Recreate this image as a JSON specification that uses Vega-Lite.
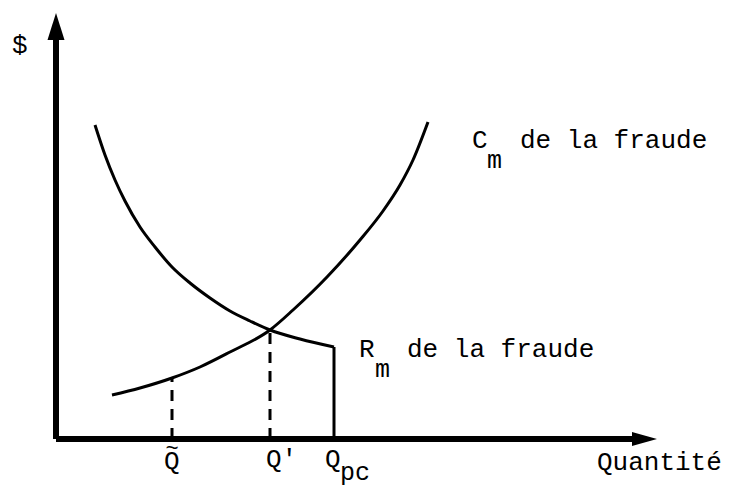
{
  "$schema": "https://vega.github.io/schema/vega-lite/v6.json",
  "width": 729,
  "height": 485,
  "padding": 0,
  "autosize": {"type": "none"},
  "background": "white",
  "config": {"view": {"stroke": null}},
  "datasets": {
    "axes": [
      {"x": 56, "y": 46, "x2": 56, "y2": 455},
      {"x": 56, "y": 46, "x2": 640, "y2": 46}
    ],
    "rm": [
      {"i": 1, "q": 95, "v": 360},
      {"i": 2, "q": 105, "v": 330},
      {"i": 3, "q": 115, "v": 305},
      {"i": 4, "q": 125, "v": 284},
      {"i": 5, "q": 140, "v": 258},
      {"i": 6, "q": 155, "v": 238},
      {"i": 7, "q": 172, "v": 218},
      {"i": 8, "q": 190, "v": 202},
      {"i": 9, "q": 210, "v": 187},
      {"i": 10, "q": 230, "v": 174},
      {"i": 11, "q": 250, "v": 164},
      {"i": 12, "q": 270, "v": 155},
      {"i": 13, "q": 300, "v": 146},
      {"i": 14, "q": 334, "v": 138}
    ],
    "cm": [
      {"i": 1, "q": 112, "v": 90},
      {"i": 2, "q": 140, "v": 97},
      {"i": 3, "q": 172, "v": 107},
      {"i": 4, "q": 200, "v": 118},
      {"i": 5, "q": 230, "v": 133},
      {"i": 6, "q": 270, "v": 155},
      {"i": 7, "q": 293, "v": 175},
      {"i": 8, "q": 327, "v": 208},
      {"i": 9, "q": 360, "v": 245},
      {"i": 10, "q": 383, "v": 274},
      {"i": 11, "q": 400, "v": 300},
      {"i": 12, "q": 413, "v": 325},
      {"i": 13, "q": 428, "v": 363}
    ],
    "cut": [{"x": 334, "y": 46, "x2": 334, "y2": 138}],
    "dash": [
      {"x": 172, "y": 46, "x2": 172, "y2": 107},
      {"x": 270, "y": 46, "x2": 270, "y2": 155}
    ],
    "labels": [
      {"t": "$", "x": 12, "y": 432},
      {"t": "C", "x": 472, "y": 337},
      {"t": "de la fraude", "x": 520, "y": 337},
      {"t": "R", "x": 359, "y": 128},
      {"t": "de la fraude", "x": 407, "y": 128},
      {"t": "Q", "x": 164, "y": 16},
      {"t": "Q'", "x": 266, "y": 18},
      {"t": "Q", "x": 325, "y": 18},
      {"t": "Quantité", "x": 597, "y": 15}
    ],
    "subs": [
      {"t": "m", "x": 487, "y": 317},
      {"t": "m", "x": 375, "y": 108},
      {"t": "pc", "x": 340, "y": 5}
    ],
    "tilde": [{"t": "~", "x": 172, "y": 37}]
  },
  "layer": [
    {
      "data": {"name": "axes"},
      "mark": {"type": "rule", "strokeWidth": 6, "color": "black"},
      "encoding": {
        "x": {"field": "x", "type": "quantitative", "scale": {"domain": [0, 729], "nice": false, "zero": false}, "axis": null},
        "y": {"field": "y", "type": "quantitative", "scale": {"domain": [0, 485], "nice": false, "zero": false}, "axis": null},
        "x2": {"field": "x2"},
        "y2": {"field": "y2"}
      }
    },
    {
      "data": {"values": [{"x": 56, "y": 458.5}]},
      "mark": {"type": "point", "filled": true, "color": "black", "opacity": 1, "shape": "M0,-1L0.63,1L-0.63,1Z", "size": 729},
      "encoding": {
        "x": {"field": "x", "type": "quantitative"},
        "y": {"field": "y", "type": "quantitative"}
      }
    },
    {
      "data": {"values": [{"x": 644.5, "y": 46}]},
      "mark": {"type": "point", "filled": true, "color": "black", "opacity": 1, "shape": "M1,0L-1,0.56L-1,-0.56Z", "size": 625},
      "encoding": {
        "x": {"field": "x", "type": "quantitative"},
        "y": {"field": "y", "type": "quantitative"}
      }
    },
    {
      "data": {"name": "rm"},
      "mark": {"type": "line", "interpolate": "monotone", "color": "black", "strokeWidth": 3},
      "encoding": {
        "x": {"field": "q", "type": "quantitative"},
        "y": {"field": "v", "type": "quantitative"},
        "order": {"field": "i"}
      }
    },
    {
      "data": {"name": "cm"},
      "mark": {"type": "line", "interpolate": "monotone", "color": "black", "strokeWidth": 3},
      "encoding": {
        "x": {"field": "q", "type": "quantitative"},
        "y": {"field": "v", "type": "quantitative"},
        "order": {"field": "i"}
      }
    },
    {
      "data": {"name": "cut"},
      "mark": {"type": "rule", "strokeWidth": 3, "color": "black"},
      "encoding": {
        "x": {"field": "x", "type": "quantitative"},
        "y": {"field": "y", "type": "quantitative"},
        "x2": {"field": "x2"},
        "y2": {"field": "y2"}
      }
    },
    {
      "data": {"name": "dash"},
      "mark": {"type": "rule", "strokeWidth": 3, "color": "black", "strokeDash": [11, 8]},
      "encoding": {
        "x": {"field": "x", "type": "quantitative"},
        "y": {"field": "y", "type": "quantitative"},
        "x2": {"field": "x2"},
        "y2": {"field": "y2"}
      }
    },
    {
      "data": {"name": "labels"},
      "mark": {"type": "text", "font": "Liberation Mono", "fontSize": 26, "align": "left", "baseline": "alphabetic", "color": "black"},
      "encoding": {
        "x": {"field": "x", "type": "quantitative"},
        "y": {"field": "y", "type": "quantitative"},
        "text": {"field": "t"}
      }
    },
    {
      "data": {"name": "subs"},
      "mark": {"type": "text", "font": "Liberation Mono", "fontSize": 25, "align": "left", "baseline": "alphabetic", "color": "black"},
      "encoding": {
        "x": {"field": "x", "type": "quantitative"},
        "y": {"field": "y", "type": "quantitative"},
        "text": {"field": "t"}
      }
    },
    {
      "data": {"name": "tilde"},
      "mark": {"type": "text", "font": "Liberation Mono", "fontSize": 22, "align": "center", "baseline": "middle", "color": "black"},
      "encoding": {
        "x": {"field": "x", "type": "quantitative"},
        "y": {"field": "y", "type": "quantitative"},
        "text": {"field": "t"}
      }
    }
  ]
}
